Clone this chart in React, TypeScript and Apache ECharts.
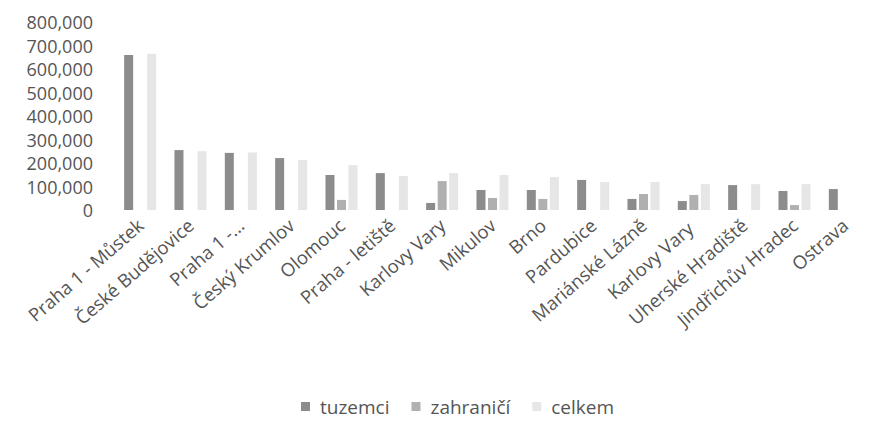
import React, { useEffect, useRef } from "react";
import * as echarts from "echarts";

const categories = [
  "Praha 1 - Můstek",
  "České Budějovice",
  "Praha 1 -...",
  "Český Krumlov",
  "Olomouc",
  "Praha - letiště",
  "Karlovy Vary",
  "Mikulov",
  "Brno",
  "Pardubice",
  "Mariánské Lázně",
  "Karlovy Vary ",
  "Uherské Hradiště",
  "Jindřichův Hradec",
  "Ostrava",
];

const tuzemci = [660000, 255000, 243000, 221000, 149000, 157000, 30000, 85000, 85000, 128000, 47000, 38000, 106000, 81000, 89000];
const zahranici = [null, null, null, null, 43000, null, 123000, 51000, 47000, null, 68000, 64000, null, 21000, null];
const celkem = [665000, 250000, 245000, 213000, 191000, 145000, 157000, 149000, 140000, 119000, 119000, 110000, 110000, 110000, null];

const seriesNames = ["tuzemci", "zahraničí", "celkem"];
const yMax = 800000;
const yInterval = 100000;

export default function App() {
  const ref = useRef<HTMLDivElement>(null);
  useEffect(() => {
    if (!ref.current) return;
    const chart = echarts.init(ref.current, undefined, { renderer: "svg" });
    const font = "Open Sans";
    const textColor = "#555555";
    chart.setOption({
      animation: false,
      backgroundColor: "#ffffff",
      grid: { left: 115, right: -22, top: 22, bottom: 215, containLabel: false },
      legend: {
        data: seriesNames,
        left: 296,
        top: 392,
        itemWidth: 9,
        itemHeight: 9,
        itemGap: 22,
        icon: "rect",
        textStyle: { color: textColor, fontFamily: font, fontSize: 19, padding: [0, 0, 0, 5] },
      },
      xAxis: {
        type: "category",
        data: categories,
        axisLine: { show: false },
        axisTick: { show: false },
        axisLabel: {
          interval: 0,
          rotate: 41,
          margin: 12,
          color: textColor,
          fontFamily: font,
          fontSize: 18.5,
        },
      },
      yAxis: {
        type: "value",
        min: 0,
        max: yMax,
        interval: yInterval,
        splitLine: { show: false },
        axisLine: { show: false },
        axisTick: { show: false },
        axisLabel: {
          margin: 22,
          color: textColor,
          fontFamily: font,
          fontSize: 18,
          lineHeight: 19,
          formatter: (v: number) => v.toLocaleString("en-US"),
        },
      },
      series: [
        { name: seriesNames[0], type: "bar", data: tuzemci, barWidth: 9, barGap: "28%", itemStyle: { color: "#8c8c8c" } },
        { name: seriesNames[1], type: "bar", data: zahranici, barWidth: 9, barGap: "28%", itemStyle: { color: "#b0b0b0" } },
        { name: seriesNames[2], type: "bar", data: celkem, barWidth: 9, barGap: "28%", itemStyle: { color: "#e6e6e6" } },
      ],
    });
    return () => chart.dispose();
  }, []);
  return <div ref={ref} style={{ position: "absolute", left: 0, top: 0, width: 870, height: 425 }} />;
}
